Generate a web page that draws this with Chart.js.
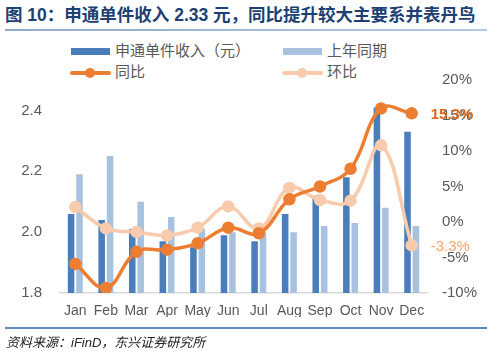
<!DOCTYPE html>
<html>
<head>
<meta charset="utf-8">
<script src="https://cdn.jsdelivr.net/npm/chart.js@4.4.1/dist/chart.umd.min.js"></script>
<style>
  body { margin: 0; background: #fff; }
  #page { position: relative; width: 492px; height: 352px; overflow: hidden; font-family: "Liberation Sans", Arial, "Noto Sans CJK SC", sans-serif; }
  #title { position: absolute; left: 5px; top: 1px; font-size: 17.5px; font-weight: bold; color: #203f73; white-space: nowrap; font-family: "Liberation Sans", "Noto Sans CJK SC", sans-serif; }
  #ruleTop { position: absolute; left: 5px; top: 29px; width: 482px; height: 2px; background: linear-gradient(to right, #8fabcf, #b5c8df); }
  #ruleBottom { position: absolute; left: 5px; top: 327px; width: 482px; height: 2px; background: #5f89b6; }
  #source { position: absolute; left: 6px; top: 332px; font-size: 13px; font-style: italic; color: #222; white-space: nowrap; }
  #chartBox { position: absolute; left: 0; top: 0; }
  .lg { position: absolute; font-size: 15px; color: #595959; white-space: nowrap; line-height: 18px; }
</style>
</head>
<body>
<div id="page">
  <div id="title">图 10：申通单件收入 2.33 元，同比提升较大主要系并表丹鸟</div>
  <div id="ruleTop"></div>
  <div id="legend"></div>
  <div id="chartBox"><canvas id="graphCanvas" width="492" height="352"></canvas></div>
  <div id="ruleBottom"></div>
  <div id="source">资料来源：iFinD，东兴证券研究所</div>
</div>
<script>
// 月份
const months = ["Jan", "Feb", "Mar", "Apr", "May", "Jun", "Jul", "Aug", "Sep", "Oct", "Nov", "Dec"];
// 申通单件收入（元）
const unitRevenue = [2.06, 2.04, 2.01, 1.97, 1.95, 1.99, 1.97, 2.06, 2.12, 2.18, 2.41, 2.33];
// 上年同期（元）
const lastYearRevenue = [2.19, 2.25, 2.10, 2.05, 2.01, 2.00, 2.00, 2.00, 2.02, 2.03, 2.08, 2.02];
// 同比 (%)
const yoyPct = [-5.9, -9.3, -4.2, -3.9, -3.0, -0.8, -1.6, 3.2, 5.0, 7.5, 16.0, 15.3];
// 环比 (%)
const momPct = [2.1, -0.9, -1.4, -1.9, -0.8, 2.2, -0.9, 4.8, 3.1, 3.0, 10.8, -3.3];
// 轴刻度
const leftTicks = [1.8, 2.0, 2.2, 2.4];
const rightTicks = [-10, -5, 0, 5, 10, 15, 20];

const BLUE = "#4a7ebb";
const LIGHT_BLUE = "#a7c1df";
const ORANGE = "#ed7d31";
const PEACH = "#f8cbad";

Chart.defaults.font.family = '"Liberation Sans", Arial, "Noto Sans CJK SC", sans-serif';
Chart.defaults.color = "#595959";

// 最后一点的数据标签
const lastLabelPlugin = {
  id: "lastLabel",
  afterDatasetsDraw(chart) {
    const ctx = chart.ctx;
    const items = [
      { index: 0, color: "#d8661c", bold: true },
      { index: 1, color: "#f5a36c", bold: false },
    ];
    ctx.save();
    items.forEach((it) => {
      const meta = chart.getDatasetMeta(it.index);
      const pt = meta.data[meta.data.length - 1];
      const ds = chart.data.datasets[it.index];
      const v = ds.data[ds.data.length - 1];
      ctx.font = (it.bold ? "bold " : "") + "15px " + Chart.defaults.font.family;
      ctx.fillStyle = it.color;
      ctx.textAlign = "left";
      ctx.textBaseline = "middle";
      ctx.fillText(v.toFixed(1) + "%", pt.x + 19, pt.y + 1);
    });
    ctx.restore();
  },
};

const ctx = document.getElementById("graphCanvas").getContext("2d");
const chart = new Chart(ctx, {
  type: "bar",
  data: {
    labels: months,
    datasets: [
      {
        type: "line",
        label: "同比",
        data: yoyPct,
        yAxisID: "y1",
        borderColor: ORANGE,
        backgroundColor: ORANGE,
        borderWidth: 3.5,
        pointRadius: 4.5,
        pointHoverRadius: 4.5,
        tension: 0.4,
        order: 0,
      },
      {
        type: "line",
        label: "环比",
        data: momPct,
        yAxisID: "y1",
        borderColor: PEACH,
        backgroundColor: PEACH,
        borderWidth: 3.5,
        pointRadius: 4.5,
        pointHoverRadius: 4.5,
        tension: 0.4,
        order: 1,
      },
      {
        label: "申通单件收入（元）",
        data: unitRevenue,
        yAxisID: "y",
        backgroundColor: BLUE,
        categoryPercentage: 0.55,
        barPercentage: 0.78,
        order: 2,
      },
      {
        label: "上年同期",
        data: lastYearRevenue,
        yAxisID: "y",
        backgroundColor: LIGHT_BLUE,
        categoryPercentage: 0.55,
        barPercentage: 0.78,
        order: 2,
      },
    ],
  },
  options: {
    responsive: false,
    animation: false,
    layout: { padding: { left: 0, right: 0, top: 80, bottom: 35 } },
    plugins: { legend: { display: false }, tooltip: { enabled: false } },
    scales: {
      x: {
        grid: { display: false, drawTicks: false },
        border: { display: true, color: "#d9d9d9", width: 1.5 },
        ticks: { font: { size: 14 }, padding: 10, maxRotation: 0, autoSkip: false },
        afterFit: (s) => { s.height = 24; },
      },
      y: {
        position: "left",
        min: 1.8,
        max: 2.5,
        grid: { display: false, drawTicks: false },
        border: { display: false },
        ticks: { font: { size: 15 }, padding: 18, callback: (v) => v.toFixed(1) },
        afterBuildTicks: (s) => { s.ticks = leftTicks.map((v) => ({ value: v })); },
        afterFit: (s) => { s.width = 60; },
      },
      y1: {
        position: "right",
        min: -10,
        max: 20,
        grid: { display: false, drawTicks: false },
        border: { display: false },
        ticks: { font: { size: 15 }, padding: 15, callback: (v) => v + "%" },
        afterBuildTicks: (s) => { s.ticks = rightTicks.map((v) => ({ value: v })); },
        afterFit: (s) => { s.width = 65; },
      },
    },
  },
  plugins: [lastLabelPlugin],
});

// 图例（两行两列）
const legendPos = [
  { ds: 2, x: 71, y: 42 },
  { ds: 3, x: 283, y: 42 },
  { ds: 0, x: 71, y: 63 },
  { ds: 1, x: 283, y: 63 },
];
const legendEl = document.getElementById("legend");
legendPos.forEach((p) => {
  const ds = chart.data.datasets[p.ds];
  const color = ds.type === "line" ? ds.borderColor : ds.backgroundColor;
  let swatch;
  if (ds.type === "line") {
    swatch =
      `<div style="position:absolute;left:${p.x - 1}px;top:${p.y + 8}px;width:41px;height:4px;border-radius:2px;background:${color}"></div>` +
      `<div style="position:absolute;left:${p.x + 14}px;top:${p.y + 5}px;width:10px;height:10px;border-radius:5px;background:${color}"></div>`;
  } else {
    swatch = `<div style="position:absolute;left:${p.x}px;top:${p.y + 6}px;width:39px;height:7px;background:${color}"></div>`;
  }
  legendEl.insertAdjacentHTML(
    "beforeend",
    swatch + `<div class="lg" style="left:${p.x + 44}px;top:${p.y}px">${ds.label}</div>`
  );
});
</script>
</body>
</html>
